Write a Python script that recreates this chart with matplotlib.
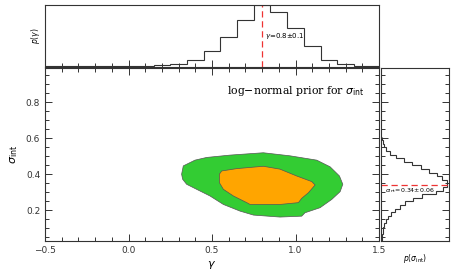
import matplotlib.pyplot as plt
import numpy as np
from matplotlib.ticker import MultipleLocator, NullFormatter

# marginal of gamma (bins 0.1 wide, edges at x.x5)
g_edges = [-0.5, -0.45, -0.35, -0.25, -0.15, -0.05, 0.05, 0.15, 0.25, 0.35, 0.45, 0.55,
           0.65, 0.75, 0.85, 0.95, 1.05, 1.15, 1.25, 1.35, 1.45, 1.5]
g_hist = [0.0, 0.0, 0.0, 0.0, 0.0, 0.002, 0.005, 0.02, 0.04, 0.10, 0.245, 0.475,
          0.755, 0.995, 0.89, 0.63, 0.33, 0.11, 0.04, 0.01, 0.0]

# marginal of sigma_int (bins 0.02 wide)
s_edges = [0.03, 0.05, 0.07, 0.09, 0.11, 0.13, 0.15, 0.17, 0.19, 0.21, 0.23, 0.25, 0.27,
           0.29, 0.31, 0.33, 0.35, 0.37, 0.39, 0.41, 0.43, 0.45, 0.47, 0.49, 0.51, 0.53,
           0.55, 0.57, 0.59, 0.61]
s_hist = [0.01, 0.01, 0.015, 0.025, 0.04, 0.07, 0.10, 0.14, 0.20, 0.27, 0.35, 0.46, 0.60,
          0.80, 0.91, 0.965, 0.975, 0.90, 0.82, 0.70, 0.58, 0.45, 0.33, 0.21, 0.13, 0.07,
          0.035, 0.015, 0.005]

# 2D credible regions (outline)
outer_g = [0.318, 0.328, 0.398, 0.468, 0.608, 0.807, 0.967, 1.127, 1.207, 1.263, 1.283,
           1.267, 1.217, 1.147, 1.057, 1.037, 0.907, 0.748, 0.668, 0.568, 0.488, 0.408,
           0.348, 0.324]
outer_s = [0.401, 0.447, 0.479, 0.494, 0.507, 0.520, 0.503, 0.479, 0.442, 0.391, 0.345,
           0.304, 0.261, 0.215, 0.187, 0.168, 0.163, 0.174, 0.196, 0.233, 0.280, 0.317,
           0.345, 0.373]
inner_g = [0.544, 0.558, 0.648, 0.807, 0.907, 1.007, 1.097, 1.117, 1.077, 1.037, 1.017,
           0.907, 0.728, 0.708, 0.628, 0.568, 0.544]
inner_s = [0.401, 0.419, 0.432, 0.445, 0.429, 0.391, 0.360, 0.341, 0.298, 0.267, 0.243,
           0.233, 0.233, 0.243, 0.280, 0.317, 0.354]

gamma_best, gamma_err = 0.8, 0.1
sig_best, sig_err = 0.34, 0.06

fig = plt.figure(figsize=(4.57, 2.74), dpi=100)
ax = fig.add_axes([0.0985, 0.1204, 0.7309, 0.6310])
axt = fig.add_axes([0.0985, 0.7555, 0.7309, 0.2263])
axr = fig.add_axes([0.8337, 0.1204, 0.1488, 0.6310])

lc = '#333333'
for a in (ax, axt, axr):
    for s in a.spines.values():
        s.set_linewidth(0.8)
        s.set_color(lc)

# main panel
ax.fill(outer_g, outer_s, color='#33cc33', ec='#555555', lw=0.5)
ax.fill(inner_g, inner_s, color='#ffa500', ec='#555555', lw=0.5)
ax.set_xlim(-0.5, 1.5)
ax.set_ylim(0.03, 0.99)
ax.xaxis.set_major_locator(MultipleLocator(0.5))
ax.xaxis.set_minor_locator(MultipleLocator(0.1))
ax.yaxis.set_major_locator(MultipleLocator(0.2))
ax.yaxis.set_minor_locator(MultipleLocator(0.05))
ax.tick_params(which='both', direction='in', top=True, right=True, labelsize=6.5,
               colors=lc, width=0.7)
ax.tick_params(which='major', length=5)
ax.tick_params(which='minor', length=3)
ax.set_xlabel(r'$\gamma$', fontsize=8, labelpad=3)
ax.set_ylabel(r'$\sigma_{\rm int}$', fontsize=8, labelpad=4)
ax.text(0.955, 0.87, r'log$-$normal prior for $\sigma_{\rm int}$', transform=ax.transAxes,
        ha='right', va='center', fontsize=7.8, family='DejaVu Serif')

# top panel
axt.stairs(g_hist, g_edges, color=lc, lw=0.8)
axt.axvline(gamma_best, color='#ee3333', ls=(0, (5, 3)), lw=0.9)
axt.text(gamma_best + 0.02, 0.5, r'$\gamma$=%.1f$\pm$%.1f' % (gamma_best, gamma_err),
         fontsize=5, va='center')
axt.set_xlim(-0.5, 1.5)
axt.set_ylim(-0.01, 1.0)
axt.xaxis.set_major_locator(MultipleLocator(0.5))
axt.xaxis.set_minor_locator(MultipleLocator(0.1))
axt.xaxis.set_major_formatter(NullFormatter())
axt.set_yticks([])
axt.tick_params(which='both', direction='in', colors=lc, width=0.7)
axt.tick_params(which='major', length=5)
axt.tick_params(which='minor', length=3)
axt.set_ylabel(r'$p(\gamma)$', fontsize=5.5, labelpad=2)

# right panel
axr.stairs(s_hist, s_edges, orientation='horizontal', color=lc, lw=0.8)
axr.axhline(sig_best, color='#ee3333', ls=(0, (5, 3)), lw=0.9)
axr.text(0.05, sig_best - 0.005, r'$\sigma_{\rm int}$=%.2f$\pm$%.2f' % (sig_best, sig_err),
         fontsize=4.5, va='top')
axr.set_ylim(0.03, 0.99)
axr.set_xlim(-0.01, 1.0)
axr.yaxis.set_major_locator(MultipleLocator(0.2))
axr.yaxis.set_minor_locator(MultipleLocator(0.05))
axr.yaxis.set_major_formatter(NullFormatter())
axr.set_xticks([])
axr.tick_params(which='both', direction='in', right=True, colors=lc, width=0.7)
axr.tick_params(which='major', length=5)
axr.tick_params(which='minor', length=3)
axr.set_xlabel(r'$p(\sigma_{\rm int})$', fontsize=5.5, labelpad=8)

fig.savefig('out.png', dpi=100)
